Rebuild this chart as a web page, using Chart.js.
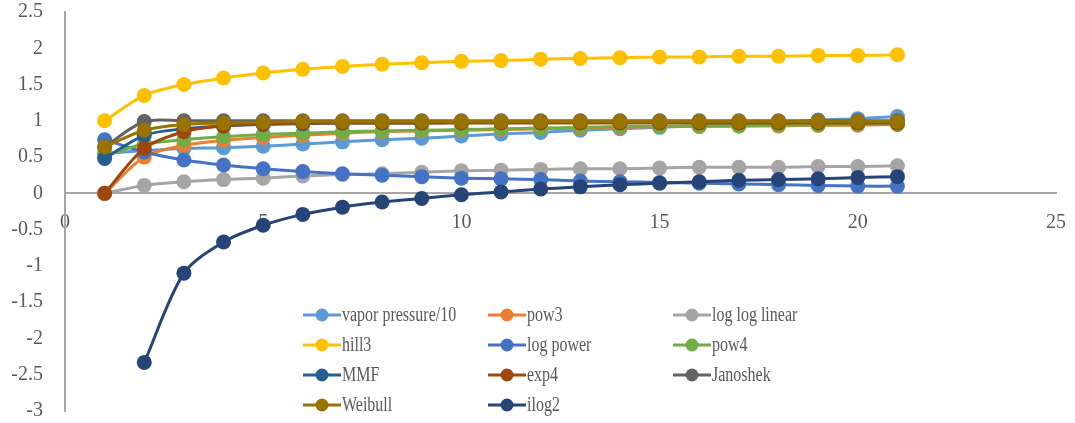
<!DOCTYPE html>
<html>
<head>
<meta charset="utf-8">
<script src="https://cdn.jsdelivr.net/npm/chart.js@4.4.1/dist/chart.umd.min.js"></script>
<style>
body { margin: 0; background: #fff; }
#wrap { width: 1075px; height: 423px; position: relative; }
</style>
</head>
<body>
<div id="wrap"><canvas id="chart"></canvas></div>
<script>
// x values (iteration)
var xs = [1,2,3,4,5,6,7,8,9,10,11,12,13,14,15,16,17,18,19,20,21];

var vaporPressure = [0.55,0.59,0.62,0.63,0.65,0.68,0.71,0.74,0.76,0.79,0.82,0.84,0.87,0.89,0.91,0.93,0.95,0.97,1.01,1.03,1.06];
var pow3 = [0,0.50,0.66,0.73,0.77,0.80,0.83,0.85,0.86,0.87,0.88,0.89,0.90,0.91,0.92,0.92,0.93,0.93,0.94,0.94,0.95];
var logLogLinear = [0,0.11,0.16,0.19,0.21,0.24,0.26,0.27,0.29,0.31,0.32,0.33,0.34,0.34,0.35,0.36,0.36,0.36,0.37,0.37,0.38];
var hill3 = [1.0,1.35,1.50,1.59,1.66,1.71,1.75,1.78,1.80,1.82,1.83,1.85,1.86,1.87,1.88,1.88,1.89,1.89,1.90,1.90,1.91];
var logPower = [0.74,0.57,0.46,0.39,0.34,0.30,0.27,0.25,0.23,0.21,0.20,0.19,0.17,0.16,0.15,0.14,0.13,0.12,0.11,0.10,0.10];
var pow4 = [0.52,0.68,0.74,0.78,0.81,0.83,0.85,0.86,0.87,0.88,0.89,0.90,0.91,0.92,0.92,0.93,0.93,0.94,0.94,0.95,0.95];
var mmf = [0.48,0.80,0.89,0.93,0.95,0.96,0.97,0.97,0.97,0.98,0.98,0.98,0.98,0.98,0.98,0.98,0.98,0.98,0.98,0.98,0.98];
var exp4 = [0,0.62,0.85,0.93,0.96,0.97,0.97,0.97,0.97,0.97,0.97,0.97,0.97,0.97,0.97,0.97,0.97,0.97,0.97,0.97,0.97];
var janoshek = [0.64,0.99,1.0,1.0,1.0,1.0,1.0,1.0,1.0,1.0,1.0,1.0,1.0,1.0,1.0,1.0,1.0,1.0,1.0,1.0,1.0];
var weibull = [0.64,0.87,0.95,0.97,0.98,0.99,0.99,0.99,0.99,0.99,0.99,0.99,0.99,0.99,0.99,0.99,0.99,0.99,0.99,0.99,0.99];
var ilog2 = [null,-2.33,-1.10,-0.67,-0.44,-0.29,-0.19,-0.12,-0.07,-0.02,0.02,0.06,0.09,0.12,0.14,0.16,0.18,0.19,0.20,0.22,0.23];

var seriesNames = ['vapor pressure/10','pow3','log log linear','hill3','log power','pow4','MMF','exp4','Janoshek','Weibull','ilog2'];
var seriesValues = [vaporPressure,pow3,logLogLinear,hill3,logPower,pow4,mmf,exp4,janoshek,weibull,ilog2];
var seriesColors = ['#5B9BD5','#ED7D31','#A5A5A5','#FFC000','#4472C4','#70AD47','#255E91','#9E480E','#636363','#997300','#264478'];

var xTicks = [0,5,10,15,20,25];
var yMin = -3, yMax = 2.5, yStep = 0.5;

var FONT = "'Liberation Serif', 'Times New Roman', serif";

function toPoints(vals) {
    var pts = [];
    vals.forEach(function(v, i) {
        if (v !== null) pts.push({x: xs[i], y: v});
    });
    return pts;
}

var datasets = seriesNames.map(function(name, i) {
    return {
        label: name,
        data: toPoints(seriesValues[i]),
        borderColor: seriesColors[i],
        backgroundColor: seriesColors[i],
        pointBackgroundColor: seriesColors[i],
        pointBorderColor: seriesColors[i],
        pointRadius: 7.5,
        pointBorderWidth: 0,
        borderWidth: 3,
        tension: 0.3,
        order: seriesNames.length - i   // later series drawn on top, like the original
    };
});

// legend in 3 columns inside the plot, lower right
var gridLegend = {
    id: 'gridLegend',
    afterDraw: function(chart) {
        var ctx = chart.ctx;
        ctx.save();
        ctx.font = '20px ' + FONT;
        ctx.textBaseline = 'middle';
        chart.data.datasets.forEach(function(ds, i) {
            var col = i % 3, row = Math.floor(i / 3);
            var x0 = 303 + col * 185;
            var y0 = 315 + row * 30;
            ctx.strokeStyle = ds.borderColor;
            ctx.lineWidth = 3;
            ctx.beginPath();
            ctx.moveTo(x0, y0);
            ctx.lineTo(x0 + 38, y0);
            ctx.stroke();
            ctx.fillStyle = ds.borderColor;
            ctx.beginPath();
            ctx.arc(x0 + 19, y0, 6.5, 0, Math.PI * 2);
            ctx.fill();
            ctx.fillStyle = '#595959';
            ctx.save();
            ctx.translate(x0 + 39, y0);
            ctx.scale(0.8, 1);
            ctx.fillText(ds.label, 0, 1);
            ctx.restore();
        });
        ctx.restore();
    }
};

new Chart(document.getElementById('chart'), {
    type: 'line',
    data: { datasets: datasets },
    options: {
        responsive: true,
        maintainAspectRatio: false,
        animation: false,
        layout: { padding: { top: 0, right: 11, bottom: 0, left: 0 } },
        plugins: {
            legend: { display: false },
            tooltip: { enabled: false }
        },
        scales: {
            x: {
                type: 'linear',
                position: { y: 0 },
                min: 0,
                max: 25,
                afterBuildTicks: function(scale) {
                    scale.ticks = xTicks.map(function(v) { return {value: v}; });
                },
                grid: { display: false },
                border: { display: true, color: '#A6A6A6', width: 2 },
                ticks: {
                    color: '#595959',
                    font: { family: FONT, size: 20 },
                    padding: 9,
                    maxRotation: 0
                }
            },
            y: {
                min: yMin,
                max: yMax,
                afterFit: function(scale) {
                    scale.width = 65;
                    scale.paddingTop = 12;
                    scale.paddingBottom = 12;
                },
                grid: { display: false },
                border: { display: true, color: '#A6A6A6', width: 2 },
                ticks: {
                    stepSize: yStep,
                    color: '#595959',
                    font: { family: FONT, size: 20 },
                    padding: 14,
                    callback: function(v) { return String(Math.round(v * 10) / 10); }
                }
            }
        }
    },
    plugins: [gridLegend]
});
</script>
</body>
</html>
